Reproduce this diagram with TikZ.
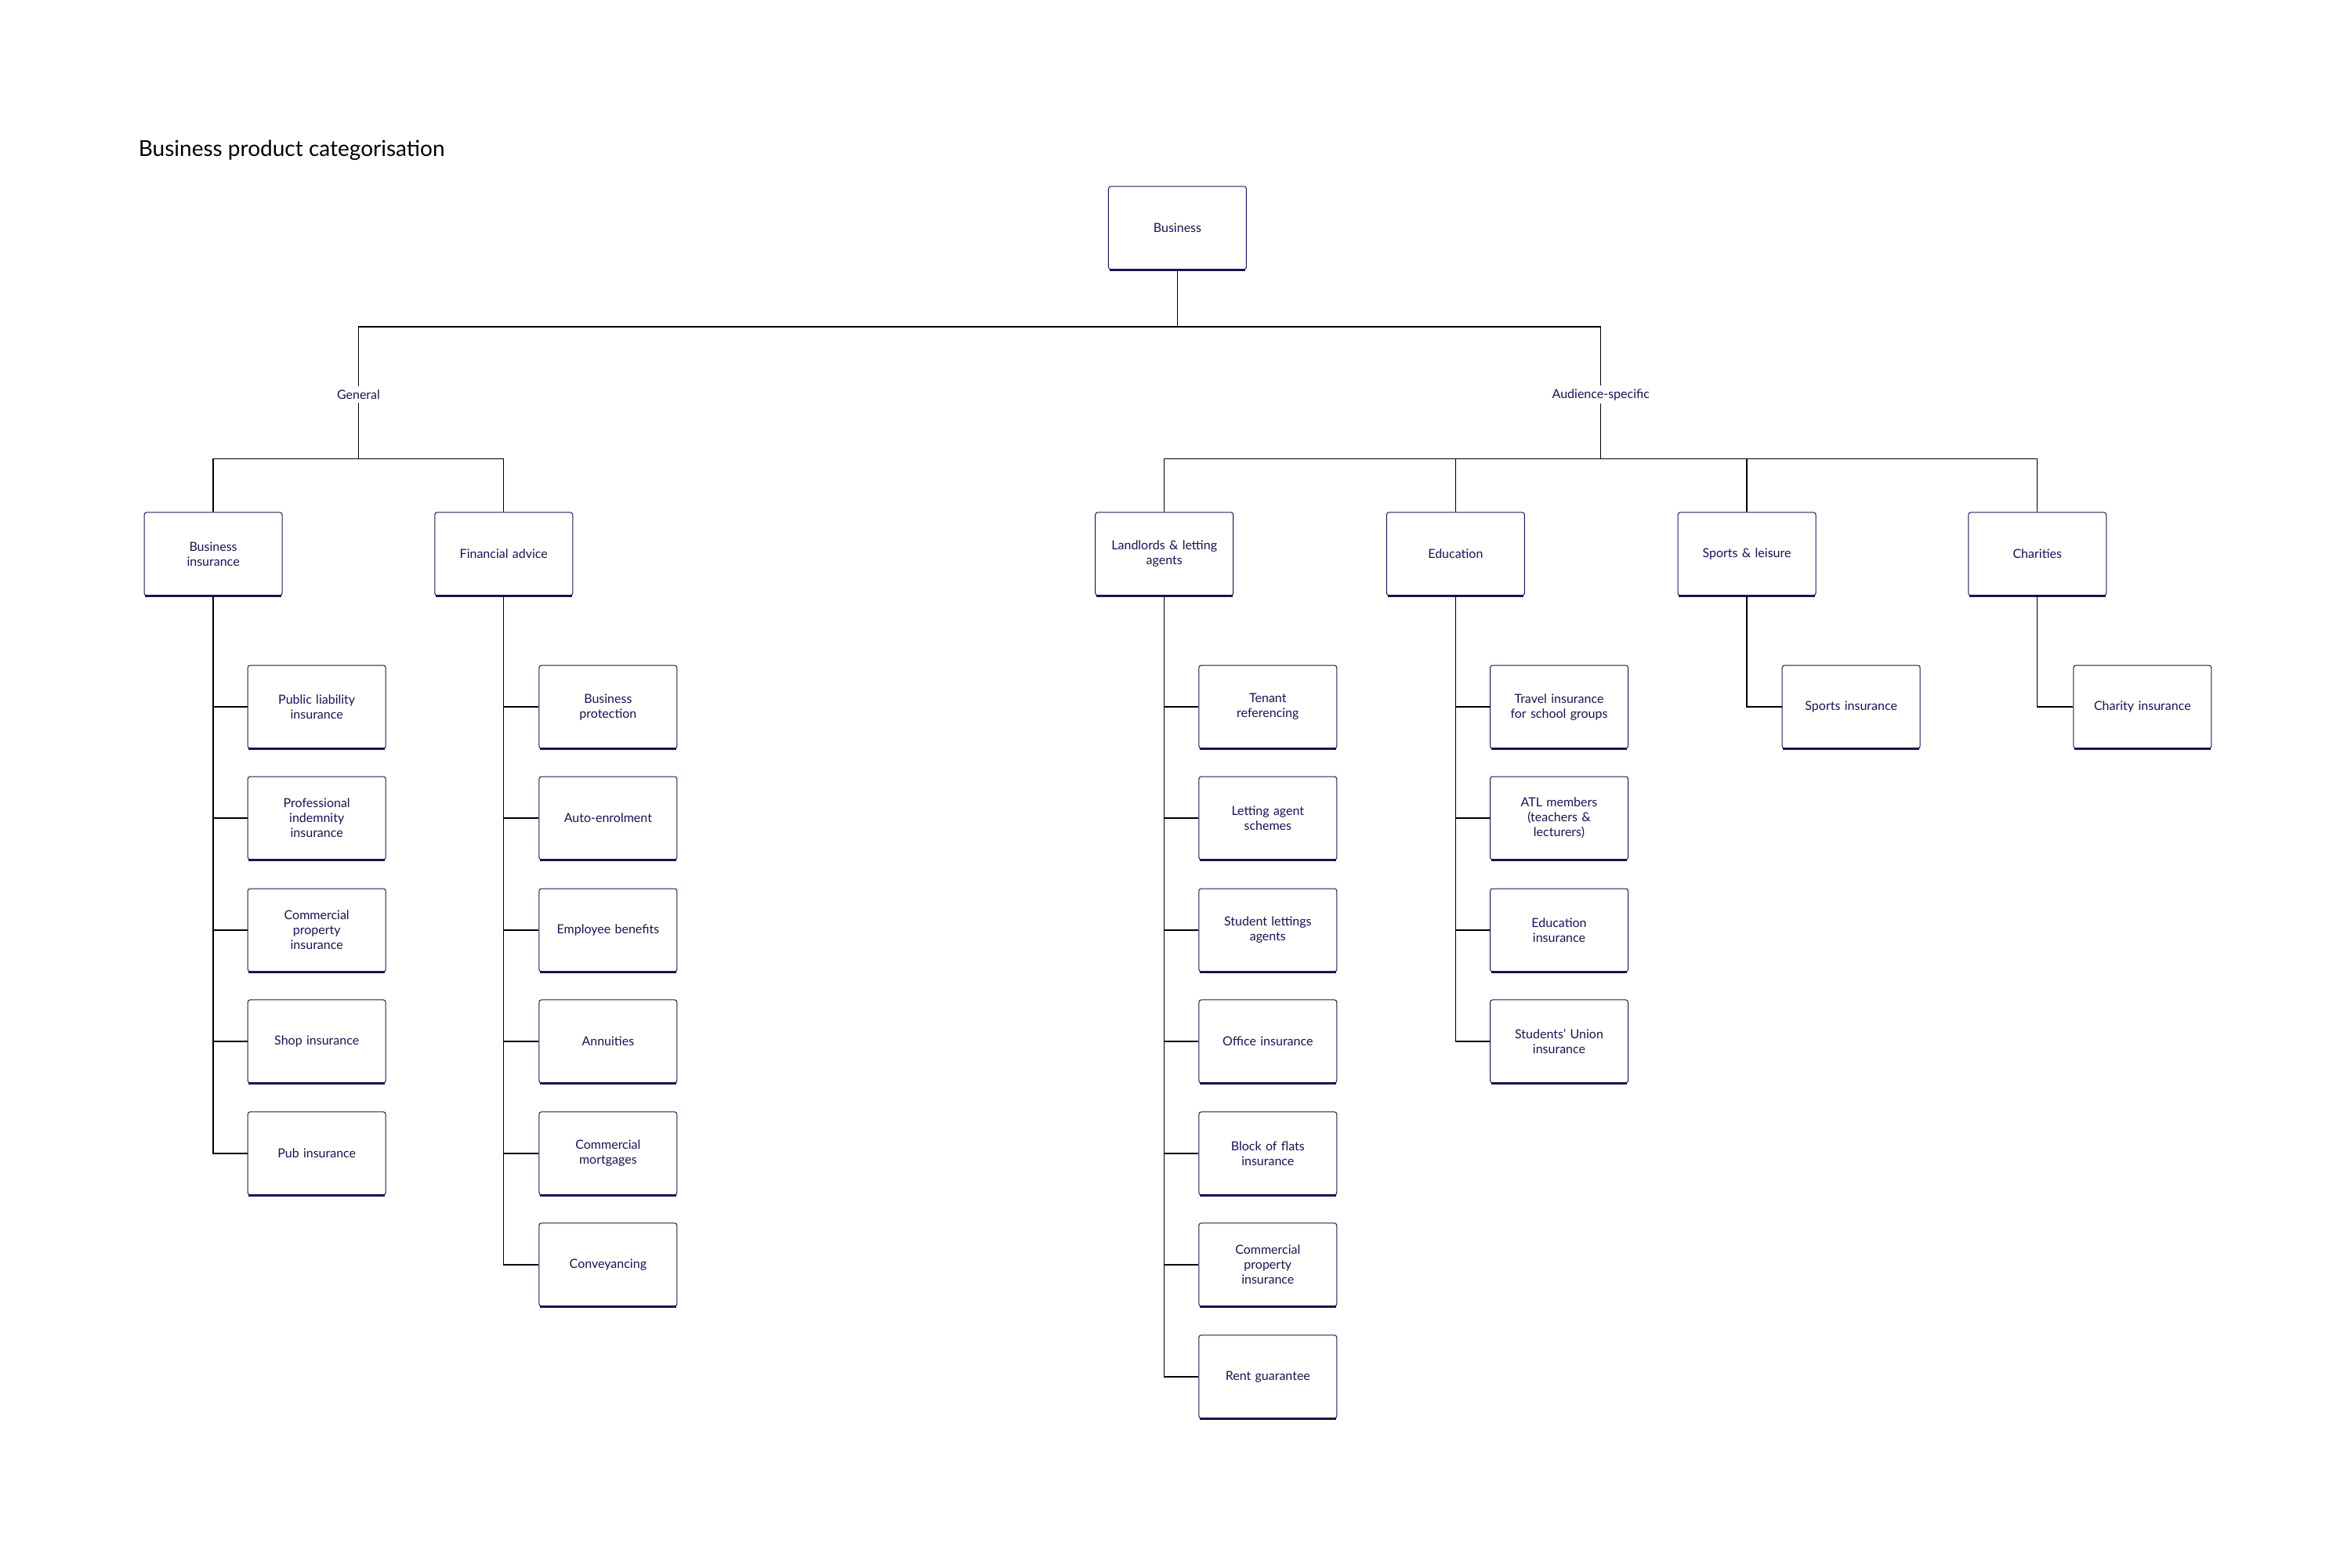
\documentclass[tikz,border=0pt]{standalone}
\usepackage{fontspec}
\setmainfont{Lato}
\definecolor{navy}{HTML}{1A1450}
\begin{document}
\begin{tikzpicture}[x=0.493pt,y=-0.493pt,
 box/.style={draw=navy,line width=0.5pt,rounded corners=1.5pt,minimum width=88pt,minimum height=53pt,inner sep=0pt,
   text width=72pt,align=center,font=\fontsize{8}{9.5}\selectfont,text=navy,
   append after command={(\tikzlastnode.south west) ++(0.8pt,0) edge[draw=navy,line width=1.6pt] ([xshift=-0.8pt]\tikzlastnode.south east)}},
 lbl/.style={font=\fontsize{8}{9.5}\selectfont,text=navy,inner sep=2pt},
 conn/.style={draw=black,line width=0.7pt}]
\path[fill=white] (0,0) rectangle (3043,2029);
\node[anchor=west,font=\fontsize{14}{16}\selectfont,text=black,inner sep=0] (title) at (179,194) {Business product categorisation};
\node[box] (root) at (1524,295) {Business};
\node[lbl] (gen) at (464,511) {General};
\node[lbl] (aud) at (2072,511) {Audience-specific};
\coordinate (h1) at (1524,423);
\draw[conn] (root.south) -- (h1);
\draw[conn] (gen.north) -- (464,423) -- (2072,423) -- (aud.north);
% level 2
\node[box] (bi) at (276,717) {Business\\insurance};
\node[box] (fa) at (652,717) {Financial advice};
\node[box] (ll) at (1507,717) {Landlords \& letting\\agents};
\node[box] (ed) at (1884,717) {Education};
\node[box] (sp) at (2261,717) {Sports \& leisure};
\node[box] (ch) at (2637,717) {Charities};
\draw[conn] (gen.south) -- (464,594);
\draw[conn] (bi.north) -- (276,594) -- (652,594) -- (fa.north);
\draw[conn] (aud.south) -- (2072,594);
\draw[conn] (ll.north) -- (1507,594) -- (2637,594) -- (ch.north);
\draw[conn] (ed.north) -- (1884,594);
\draw[conn] (sp.north) -- (2261,594);
% level 3
\def\ya{915}\def\yb{1059}\def\yc{1204}\def\yd{1348}\def\ye{1493}\def\yf{1637}\def\yg{1782}
\node[box] (b1) at (410,\ya) {Public liability\\insurance};
\node[box] (b2) at (410,\yb) {Professional\\indemnity\\insurance};
\node[box] (b3) at (410,\yc) {Commercial\\property\\insurance};
\node[box] (b4) at (410,\yd) {Shop insurance};
\node[box] (b5) at (410,\ye) {Pub insurance};
\foreach \n in {b1,b2,b3,b4,b5} \draw[conn] (bi.south) |- (\n.west);
\node[box] (f1) at (787,\ya) {Business\\protection};
\node[box] (f2) at (787,\yb) {Auto-enrolment};
\node[box] (f3) at (787,\yc) {Employee benefits};
\node[box] (f4) at (787,\yd) {Annuities};
\node[box] (f5) at (787,\ye) {Commercial\\mortgages};
\node[box] (f6) at (787,\yf) {Conveyancing};
\foreach \n in {f1,f2,f3,f4,f5,f6} \draw[conn] (fa.south) |- (\n.west);
\node[box] (l1) at (1641,\ya) {Tenant\\referencing};
\node[box] (l2) at (1641,\yb) {Letting agent\\schemes};
\node[box] (l3) at (1641,\yc) {Student lettings\\agents};
\node[box] (l4) at (1641,\yd) {Office insurance};
\node[box] (l5) at (1641,\ye) {Block of flats\\insurance};
\node[box] (l6) at (1641,\yf) {Commercial\\property\\insurance};
\node[box] (l7) at (1641,\yg) {Rent guarantee};
\foreach \n in {l1,l2,l3,l4,l5,l6,l7} \draw[conn] (ll.south) |- (\n.west);
\node[box] (e1) at (2018,\ya) {Travel insurance\\for school groups};
\node[box] (e2) at (2018,\yb) {ATL members\\(teachers \&\\lecturers)};
\node[box] (e3) at (2018,\yc) {Education\\insurance};
\node[box] (e4) at (2018,\yd) {Students’ Union\\insurance};
\foreach \n in {e1,e2,e3,e4} \draw[conn] (ed.south) |- (\n.west);
\node[box] (s1) at (2396,\ya) {Sports insurance};
\draw[conn] (sp.south) |- (s1.west);
\node[box] (c1) at (2773,\ya) {Charity insurance};
\draw[conn] (ch.south) |- (c1.west);
\end{tikzpicture}
\end{document}
